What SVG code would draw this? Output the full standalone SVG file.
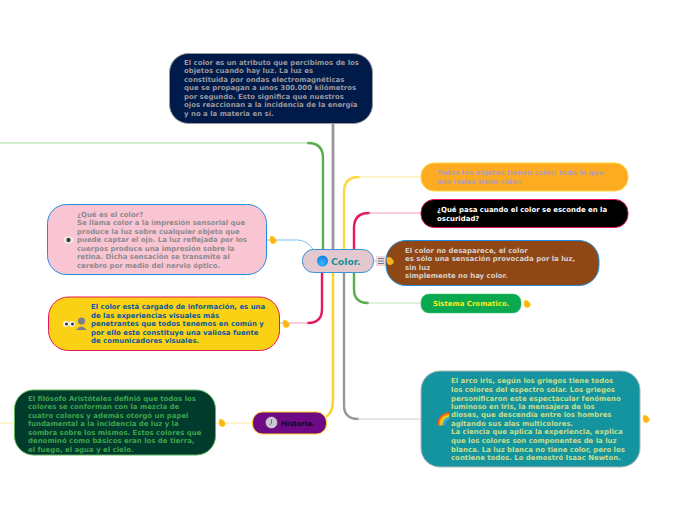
<svg xmlns="http://www.w3.org/2000/svg" width="696" height="520" viewBox="0 0 696 520">
<style>
text{font-family:"DejaVu Sans",Verdana,sans-serif;font-weight:700;font-size:6.95px}
.c{fill:none;stroke-linecap:round}
.w{stroke-width:2.400}
.t{stroke-width:1}
.f{fill:#fdb515;stroke:#ffd21f;stroke-width:.5}
</style>
<defs>
<path id="flag" d="M-2.500-3.500 C0-4.500 2.500-2 3.500 0.500 C3.500 3 1 4-1 3.500 C-3 3-3.500-1-2.500-3.500Z"/>
<radialGradient id="ball" cx=".45" cy=".7" r=".7"><stop offset="0" stop-color="#3fb4ff"/><stop offset="1" stop-color="#0b7fe0"/></radialGradient>
</defs>
<rect width="696" height="520" fill="#fff"/>
<g id="connectors">
<path class="c" stroke-width="2.800" stroke="#9a979c" d="M333 124V250"/>
<path class="c w" stroke="#9a979c" d="M344 272V405Q344 419 358 419"/>
<path class="c t" stroke="#cfcdd0" d="M358 419H421"/>
<path class="c w" stroke="#ffd83a" d="M344 250V192Q344 177 359 177"/>
<path class="c t" stroke="#fdeb9c" d="M359 177H421"/>
<path class="c w" stroke="#e8175d" d="M354 250V228Q354 213 369 213"/>
<path class="c t" stroke="#f59ab8" d="M369 213H421"/>
<path class="c w" stroke="#56ad4a" d="M354 272V289Q354 303 368 303"/>
<path class="c t" stroke="#bfe0ba" d="M368 303H421"/>
<path class="c w" stroke="#56ad4a" d="M323 250V158Q323 143 308 143"/>
<path class="c t" stroke="#a5d69d" d="M308 143H0"/>
<path class="c w" stroke="#e8175d" d="M322 272V309Q322 323 308 323"/>
<path class="c t" stroke="#f59ab8" d="M308 323H280"/>
<path class="c w" stroke="#ffd21f" d="M333 272V400Q333 412 327 416"/>
<path class="c t" stroke="#fdeb9c" d="M252 423H216"/>
<path class="c t" stroke="#fdeb9c" d="M14 423H0"/>
<path class="c t" stroke="#79c3ee" d="M267 240H298Q308 241 313 249"/>
<path class="c t" stroke="#79c3ee" d="M374 261H386"/>
</g>
<g id="n-center">
<rect x="302.500" y="249.500" width="71" height="23" rx="11" fill="#e3c8cf" stroke="#3b93d6"/>
<circle cx="322.500" cy="261" r="5.500" fill="url(#ball)"/>
<text x="331" y="264.500" style="font-size:9.300px" fill="#14919b">Color.</text>
<rect x="376" y="256" width="10" height="10" fill="#f4d5da"/>
<path d="M378 258.500h6M378 261h6M378 263.500h6" stroke="#5b8a9a" stroke-width="1"/>
</g>
<g id="n-top">
<rect x="169.500" y="53.500" width="203" height="70" rx="19" fill="#001a4a" stroke="#9a979c"/>
<g fill="#9a979c">
<text x="184" y="64.500">El color es un atributo que percibimos de los</text>
<text x="184" y="73">objetos cuando hay luz. La luz es</text>
<text x="184" y="81.500">constituida por ondas electromagnéticas</text>
<text x="184" y="90">que se propagan a unos 300.000 kilómetros</text>
<text x="184" y="98.500">por segundo. Esto significa que nuestros</text>
<text x="184" y="107">ojos reaccionan a la incidencia de la energía</text>
<text x="184" y="115.500">y no a la materia en sí.</text>
</g>
</g>
<g id="n-objetos">
<rect x="421" y="163" width="207" height="28" rx="13" fill="#fdab21" stroke="#ffd83a"/>
<g fill="#b49bb5">
<text x="437" y="175">Todos los objetos tienen color; todo lo que</text>
<text x="437" y="184">nos rodea tiene color.</text>
</g>
</g>
<g id="n-oscuridad">
<rect x="421" y="199.500" width="207" height="28" rx="13" fill="#000" stroke="#e8175d"/>
<g fill="#fff">
<text x="437" y="212">¿Qué pasa cuando el color se esconde en la</text>
<text x="437" y="220.500">oscuridad?</text>
</g>
</g>
<g id="n-desaparece">
<rect x="386" y="240.500" width="213" height="45" rx="20" fill="#8f4716" stroke="#1f8ee0"/>
<g fill="#d8d0cb">
<text x="405" y="253">El color no desaparece, el color</text>
<text x="405" y="261">es sólo una sensación provocada por la luz,</text>
<text x="405" y="270">sin luz</text>
<text x="405" y="278">simplemente no hay color.</text>
</g>
</g>
<g id="n-sistema">
<rect x="421" y="294" width="100" height="19" rx="8" fill="#0aa84f" stroke="#3dbb6c" stroke-width=".5"/>
<text x="433" y="306" fill="#f6ee1a">Sistema Cromatico.</text>
<use href="#flag" class="f" x="527" y="304"/>
</g>
<g id="n-arco">
<rect x="421" y="371" width="219" height="96" rx="19" fill="#13949f" stroke="#b4b4b4"/>
<text x="436" y="423" style="font-size:12px">🌈</text>
<g fill="#c8dd8c">
<text x="451" y="383">El arco iris, según los griegos tiene todos</text>
<text x="451" y="392">los colores del espectro solar. Los griegos</text>
<text x="451" y="400.500">personificaron este espectacular fenómeno</text>
<text x="451" y="409">luminoso en Iris, la mensajera de los</text>
<text x="451" y="417">dioses, que descendía entre los hombres</text>
<text x="451" y="425.500">agitando sus alas multicolores.</text>
<text x="451" y="434">La ciencia que aplica la experiencia, explica</text>
<text x="451" y="443">que los colores son componentes de la luz</text>
<text x="451" y="451.500">blanca. La luz blanca no tiene color, pero los</text>
<text x="451" y="460">contiene todos. Lo demostró Isaac Newton.</text>
</g>
<use href="#flag" class="f" x="646" y="419"/>
</g>
<g id="n-que-es">
<rect x="47.500" y="204.500" width="219" height="70" rx="19" fill="#fac5d2" stroke="#1f8ee0"/>
<ellipse cx="68.500" cy="240" rx="5" ry="3.500" fill="#eee"/>
<circle cx="68.500" cy="240" r="2.200" fill="#4a3a2a"/>
<g fill="#8d8a90">
<text x="77" y="217">¿Qué es el color?</text>
<text x="77" y="225">Se llama color a la impresión sensorial que</text>
<text x="77" y="234">produce la luz sobre cualquier objeto que</text>
<text x="77" y="242">puede captar el ojo. La luz reflejada por los</text>
<text x="77" y="251">cuerpos produce una impresión sobre la</text>
<text x="77" y="259">retina. Dicha sensación se transmite al</text>
<text x="77" y="268">cerebro por medio del nervio óptico.</text>
</g>
<use href="#flag" class="f" x="273" y="240"/>
</g>
<g id="n-cargado">
<rect x="48.500" y="297" width="231" height="53.500" rx="20" fill="#fbd116" stroke="#e8175d"/>
<circle cx="66" cy="324" r="3" fill="#f5f5f0"/><circle cx="66.500" cy="324" r="1.500" fill="#333"/>
<circle cx="72" cy="324" r="3" fill="#f5f5f0"/><circle cx="72.500" cy="324" r="1.500" fill="#333"/>
<circle cx="81.500" cy="321" r="3.500" fill="#7c7f8a"/>
<path d="M76 330Q81 323 87 330Z" fill="#7c7f8a"/>
<g fill="#0b5a9a">
<text x="91" y="309">El color está cargado de información, es una</text>
<text x="91" y="318">de las experiencias visuales más</text>
<text x="91" y="326">penetrantes que todos tenemos en común y</text>
<text x="91" y="335">por ello este constituye una valiosa fuente</text>
<text x="91" y="343">de comunicadores visuales.</text>
</g>
<use href="#flag" class="f" x="286" y="324"/>
</g>
<g id="n-historia">
<rect x="252.500" y="412" width="74" height="22" rx="10" fill="#6d0a84" stroke="#ffd21f"/>
<circle cx="271.500" cy="422.500" r="5.500" fill="#c9c7d0" stroke="#eee" stroke-width=".5"/>
<path d="M271.500 419.500V423L269.500 425" fill="none" stroke="#444" stroke-width=".7"/>
<text x="281" y="426" fill="#14051c">Historia.</text>
</g>
<g id="n-aristoteles">
<rect x="14.500" y="390" width="201" height="65" rx="19" fill="#003b2b" stroke="#5cb85c"/>
<g fill="#3fa34d">
<text x="28" y="400.500">El filósofo Aristóteles definió que todos los</text>
<text x="28" y="409">colores se conforman con la mezcla de</text>
<text x="28" y="417.500">cuatro colores y además otorgó un papel</text>
<text x="28" y="426">fundamental a la incidencia de luz y la</text>
<text x="28" y="434.500">sombra sobre los mismos. Estos colores que</text>
<text x="28" y="443">denominó como básicos eran los de tierra,</text>
<text x="28" y="451.500">el fuego, el agua y el cielo.</text>
</g>
<use href="#flag" class="f" x="222" y="423"/>
</g>
<use id="flag-center" href="#flag" class="f" x="390" y="261"/>
</svg>
